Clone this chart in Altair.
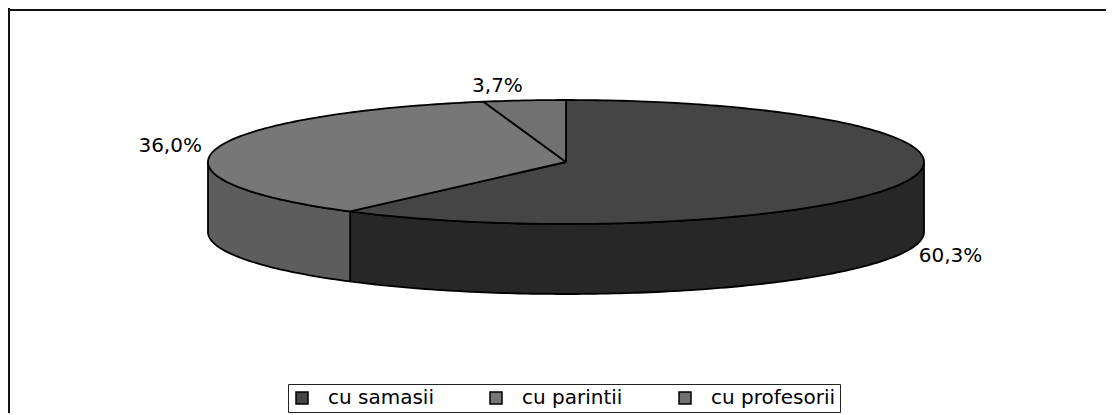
import numpy as np
import pandas as pd
import altair as alt

# ---- data ----
categories = ["cu samasii", "cu parintii", "cu profesorii"]
values = [60.3, 36.0, 3.7]
value_labels = ["60,3%", "36,0%", "3,7%"]

# ---- styling / layout ----
top_colors = ["#454545", "#777777", "#717171"]
side_colors = ["#272727", "#5d5d5d", "#555555"]
W, H = 1098, 405
CX, CY, RX, RY, DEPTH = 558.0, 154.0, 358.0, 62.0, 70.0
FONT = "DejaVu Sans"


def ell(t_deg, dy=0.0):
    t = np.radians(t_deg)
    return CX + RX * np.sin(t), CY - RY * np.cos(t) + dy


total = sum(values)
starts, ends = [], []
acc = 0.0
for v in values:
    starts.append(acc / total * 360.0)
    acc += v
    ends.append(acc / total * 360.0)

top_rows, side_rows, label_rows = [], [], []
for k, cat in enumerate(categories):
    a, b = starts[k], ends[k]
    n = max(2, int(np.ceil(b - a)) + 1)
    pts = [(CX, CY)] + [ell(t) for t in np.linspace(a, b, n)] + [(CX, CY)]
    for i, (x, y) in enumerate(pts):
        top_rows.append({"part": cat, "i": i, "x": x, "y": y})
    lo, hi = max(a, 90.0), min(b, 270.0)
    if lo < hi:
        m = max(2, int(np.ceil(hi - lo)) + 1)
        up = [ell(t) for t in np.linspace(lo, hi, m)]
        down = [ell(t, DEPTH) for t in np.linspace(hi, lo, m)]
        spts = up + down + [up[0]]
        for i, (x, y) in enumerate(spts):
            side_rows.append({"part": cat + " side", "col": side_colors[k], "i": i, "x": x, "y": y})
    mid = (a + b) / 2.0
    s, c = np.sin(np.radians(mid)), np.cos(np.radians(mid))
    px, py = ell(mid, DEPTH if c < 0 else 0.0)
    label_rows.append({
        "part": cat,
        "text": value_labels[k],
        "x": px + 14.0 * s,
        "y": py - 15.0 * c,
        "side": "left" if s > 0 else "right",
    })

top_df = pd.DataFrame(top_rows)
side_df = pd.DataFrame(side_rows)
label_df = pd.DataFrame(label_rows)

X = alt.X("x:Q", scale=alt.Scale(domain=[0, W], nice=False, zero=False), axis=None)
Y = alt.Y("y:Q", scale=alt.Scale(domain=[0, H], nice=False, zero=False, reverse=True), axis=None)

sides = alt.Chart(side_df).mark_line(stroke="black", strokeWidth=1.8, strokeJoin="round").encode(
    x=X, y=Y, order="i:Q", detail="part:N",
    fill=alt.Fill("col:N", scale=None),
)

tops = alt.Chart(top_df).mark_line(stroke="black", strokeWidth=1.8, strokeJoin="round").encode(
    x=X, y=Y, order="i:Q", detail="part:N",
    fill=alt.Fill(
        "part:N",
        sort=categories,
        scale=alt.Scale(domain=categories, range=top_colors),
        legend=alt.Legend(
            title=None,
            orient="none",
            legendX=280,
            legendY=376,
            direction="horizontal",
            columns=3,
            symbolType="square",
            symbolSize=144,
            symbolStrokeColor="black",
            symbolStrokeWidth=1.5,
            labelFont=FONT,
            labelFontSize=20,
            labelColor="black",
            labelOffset=16,
            columnPadding=52,
            padding=4,
            strokeColor="#222222",
            fillColor="white",
        ),
    ),
)

lab_left = alt.Chart(label_df).transform_filter(alt.datum.side == "left").mark_text(
    align="left", baseline="middle", font=FONT, fontSize=20, color="black"
).encode(x=X, y=Y, text="text:N")

lab_right = alt.Chart(label_df).transform_filter(alt.datum.side == "right").mark_text(
    align="right", baseline="middle", font=FONT, fontSize=20, color="black"
).encode(x=X, y=Y, text="text:N")

frame_top = alt.Chart(label_df).mark_rule(color="#111111", strokeWidth=2).encode(
    x=alt.value(0), x2=alt.value(W), y=alt.value(2)
)
frame_left = alt.Chart(label_df).mark_rule(color="#111111", strokeWidth=2).encode(
    x=alt.value(1), y=alt.value(0), y2=alt.value(H)
)

chart = alt.layer(sides, tops, lab_left, lab_right, frame_top, frame_left).resolve_scale(
    fill="independent"
).properties(
    width=W, height=H, padding=0, autosize=alt.AutoSizeParams(type="none"),
    background="white",
).configure_view(strokeWidth=0)

chart.save("out.html", embed_options={"renderer": "svg", "actions": False})
